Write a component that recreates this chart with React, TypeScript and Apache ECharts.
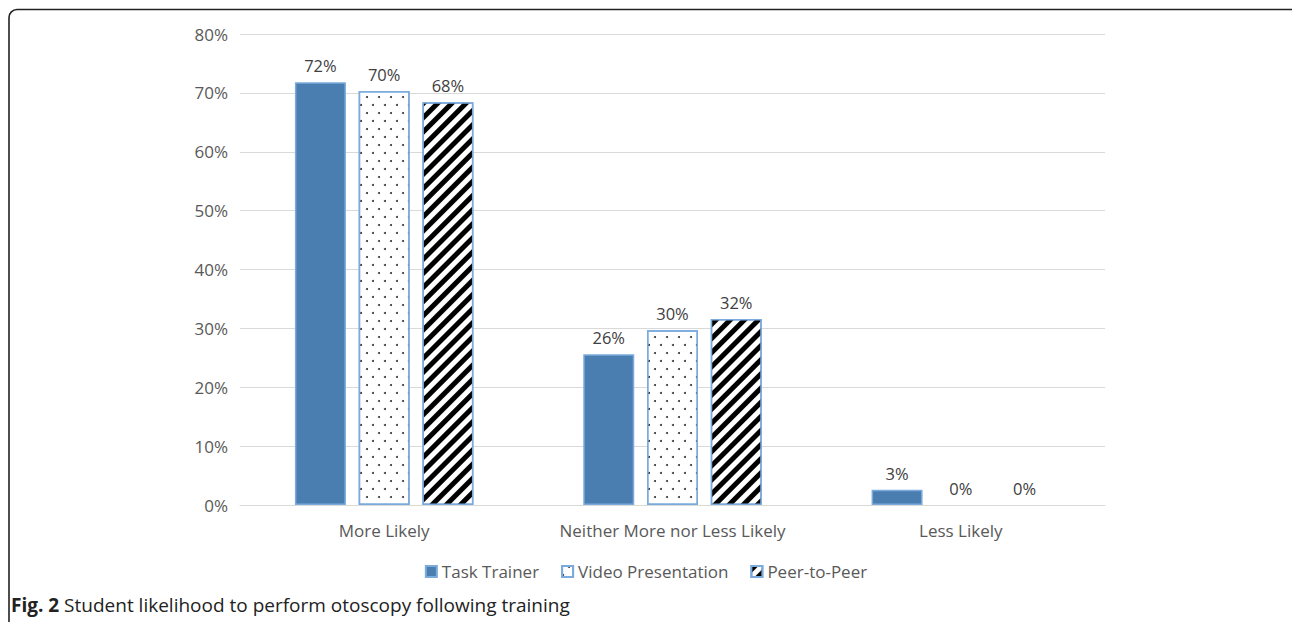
import React, { useEffect, useRef } from "react";
import * as echarts from "echarts";

const categories = ["More Likely", "Neither More nor Less Likely", "Less Likely"];
const seriesNames = ["Task Trainer", "Video Presentation", "Peer-to-Peer"];
const taskTrainer = [71.8, 25.6, 2.6];
const videoPresentation = [70.3, 29.7, 0];
const peerToPeer = [68.4, 31.6, 0];
const yTicks = { min: 0, max: 80, interval: 10 };
const caption = { bold: "Fig. 2", text: " Student likelihood to perform otoscopy following training" };

const FONT = "'Open Sans', 'Noto Sans', sans-serif";

export default function App() {
  const ref = useRef<HTMLDivElement>(null);
  useEffect(() => {
    document.body.style.margin = "0";
    const chart = echarts.init(ref.current!, null, { renderer: "svg" });
    const label = {
      show: true,
      position: "top",
      distance: 8,
      color: "#404040",
      fontSize: 16.5,
      fontFamily: FONT,
      formatter: (p: any) => Math.round(p.value) + "%",
    };
    const border = { borderColor: "#7BABDD", borderWidth: 1.5 };
    const toData = (arr: number[]) =>
      arr.map((v) => (v === 0 ? { value: v, itemStyle: { borderWidth: 0 } } : v));
    chart.setOption({
      animation: false,
      backgroundColor: "#ffffff",
      grid: { left: 240, right: 187, top: 34, bottom: 117 },
      legend: {
        data: seriesNames,
        bottom: 37,
        left: "center",
        itemWidth: 11,
        itemHeight: 11,
        itemGap: 22,
        icon: "rect",
        textStyle: { color: "#595959", fontSize: 17, fontFamily: FONT },
      },
      xAxis: {
        type: "category",
        data: categories,
        axisLine: { lineStyle: { color: "#D9D9D9", width: 1 } },
        axisTick: { show: false },
        axisLabel: { color: "#595959", fontSize: 17, fontFamily: FONT, margin: 17, interval: 0 },
      },
      yAxis: {
        type: "value",
        min: yTicks.min,
        max: yTicks.max,
        interval: yTicks.interval,
        axisLine: { show: false },
        axisTick: { show: false },
        splitLine: { lineStyle: { color: "#D9D9D9", width: 1 } },
        axisLabel: {
          color: "#595959",
          fontSize: 17,
          fontFamily: FONT,
          margin: 12,
          formatter: "{value}%",
        },
      },
      series: [
        {
          name: seriesNames[0],
          type: "bar",
          data: toData(taskTrainer),
          barWidth: 51,
          barGap: "25%",
          itemStyle: { color: "#4A7EB0", ...border },
          label,
        },
        {
          name: seriesNames[1],
          type: "bar",
          data: toData(videoPresentation),
          barWidth: 51,
          barGap: "25%",
          itemStyle: {
            color: "#ffffff",
            ...border,
            decal: {
              symbol: "circle",
              symbolSize: 1,
              color: "#333333",
              dashArrayX: [[2, 10], [0, 6, 2, 4]],
              dashArrayY: [2, 6],
            },
          },
          label,
        },
        {
          name: seriesNames[2],
          type: "bar",
          data: toData(peerToPeer),
          barWidth: 51,
          barGap: "25%",
          itemStyle: {
            color: "#ffffff",
            ...border,
            decal: {
              symbol: "rect",
              symbolSize: 1,
              color: "#000000",
              dashArrayX: [1, 0],
              dashArrayY: [4.5, 4.5],
              rotation: -Math.PI / 4,
            },
          },
          label,
        },
      ],
      graphic: [
        {
          type: "rect",
          shape: { x: 9, y: 9.5, width: 1320, height: 700, r: 8 },
          style: { fill: "none", stroke: "#222222", lineWidth: 1.6 },
          silent: true,
        },
        {
          type: "text",
          left: 11,
          top: 595,
          style: {
            text: "{b|" + caption.bold + "}{n|" + caption.text + "}",
            rich: {
              b: { fontSize: 19, fontWeight: "bold", fontFamily: FONT, fill: "#222222", color: "#222222" },
              n: { fontSize: 19, fontFamily: FONT, fill: "#222222", color: "#222222" },
            },
          },
        },
      ],
    });
    return () => chart.dispose();
  }, []);
  return <div ref={ref} style={{ width: 1292, height: 622 }} />;
}
